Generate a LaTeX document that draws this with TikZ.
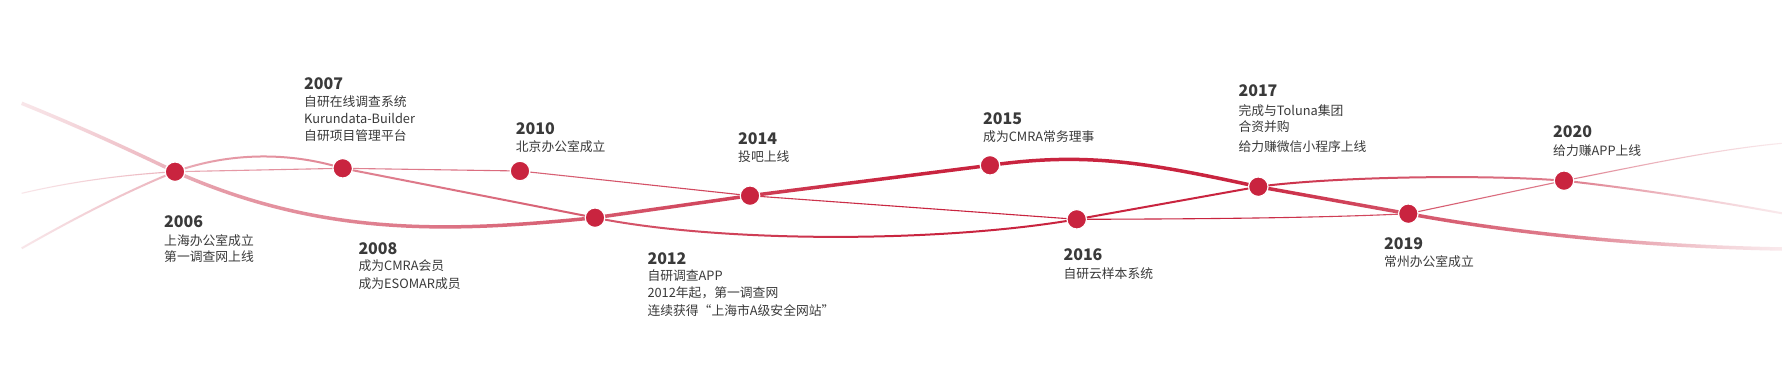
\documentclass[tikz,border=0pt]{standalone}
\usepackage{fontspec}
\newfontfamily\cjk{Noto Sans CJK SC}
\usetikzlibrary{fadings}
\definecolor{crim}{HTML}{C9243F}
\definecolor{txt}{HTML}{3A3A3A}
\tikzfading[name=fadeL, left color=transparent!4, right color=transparent!100]
\tikzfading[name=fadeR, left color=transparent!100, right color=transparent!4]
\tikzfading[name=fadeLL, left color=transparent!30, right color=transparent!100]
\tikzfading[name=fadeRR, left color=transparent!100, right color=transparent!30]
\tikzset{
  thickline/.style={draw=crim, line width=3.5pt, line join=round},
  medline/.style={draw=crim, line width=2pt, line join=round},
  thinline/.style={draw=crim, line width=1.1pt, line join=round},
  dot/.style={circle, fill=crim, draw=white, line width=1.2pt, minimum size=19.5pt, inner sep=0pt},
  yr/.style={anchor=base west, inner sep=0pt, text=txt, font=\cjk\bfseries\fontsize{16}{16}\selectfont},
  tx/.style={anchor=base west, inner sep=0pt, text=txt, font=\cjk\fontsize{12.8}{12.8}\selectfont}
}
\begin{document}
\begin{tikzpicture}[x=1pt, y=-1pt]
\useasboundingbox[fill=white] (0,0) rectangle (1782,367);
% milestone positions
\coordinate (p2006) at (175,171.7);
\coordinate (p2007) at (342.7,168.3);
\coordinate (p2008) at (595,217.7);
\coordinate (p2010) at (520,171);
\coordinate (p2014) at (750,195.7);
\coordinate (p2015) at (990,165.3);
\coordinate (p2016) at (1076.7,219.3);
\coordinate (p2017) at (1258.3,186.7);
\coordinate (p2019) at (1408.3,213.7);
\coordinate (p2020) at (1564,180.7);
% free ends
\coordinate (aL) at (21.7,103.3);
\coordinate (bL) at (21.7,248.3);
\coordinate (cL) at (21.7,193.3);
\coordinate (aR) at (1782,249);
\coordinate (bR) at (1782,213.3);
\coordinate (cR) at (1782,143.3);
% thin strand
\draw[thinline] (cL) .. controls (70,182) and (120,175) .. (p2006) -- (p2007) -- (p2010) -- (p2014) -- (p2016)
  .. controls (1200,219) and (1320,218) .. (p2019) -- (p2020) .. controls (1630,168) and (1710,150) .. (cR);
% medium strand
\draw[medline] (bL) .. controls (80,215) and (130,190) .. (p2006) .. controls (230,152) and (290,152) .. (p2007)
  -- (p2008) .. controls (720,243) and (940,243) .. (p2016) -- (p2017)
  .. controls (1330,177) and (1480,174) .. (p2020) .. controls (1640,189) and (1720,202) .. (bR);
% thick strand
\draw[thickline] (aL) .. controls (80,127) and (130,150) .. (p2006) .. controls (320,236) and (445,233) .. (p2008)
  -- (p2014) -- (p2015) .. controls (1085,152) and (1145,162) .. (p2017) -- (p2019)
  .. controls (1490,229) and (1620,246) .. (aR);
% fading of the ends
\fill[white, path fading=fadeL] (-300,-10) rectangle (900,380);
\fill[white, path fading=fadeLL] (0,-10) rectangle (220,380);
\fill[white, path fading=fadeR] (1235,-10) rectangle (1995,380);
\fill[white, path fading=fadeRR] (1580,-10) rectangle (1782,380);
% dots
\foreach \y in {2006,2007,2008,2010,2014,2015,2016,2017,2019,2020}
  \node[dot] (d\y) at (p\y) {};
% labels
\node[yr] (y2006) at (164,227.3) {2006};
\node[tx] (t2006a) at (164,245) {上海办公室成立};
\node[tx] (t2006b) at (164,261.3) {第一调查网上线};
\node[yr] (y2007) at (304,89) {2007};
\node[tx] (t2007a) at (304,106.7) {自研在线调查系统};
\node[tx] (t2007b) at (304,123.3) {Kurundata-Builder};
\node[tx] (t2007c) at (304,140) {自研项目管理平台};
\node[yr] (y2008) at (358.3,254) {2008};
\node[tx] (t2008a) at (358.3,270.7) {成为CMRA会员};
\node[tx] (t2008b) at (358.3,288.3) {成为ESOMAR成员};
\node[yr] (y2010) at (515.7,134) {2010};
\node[tx] (t2010a) at (515.7,151) {北京办公室成立};
\node[yr] (y2012) at (647.3,264) {2012};
\node[tx] (t2012a) at (647.3,280) {自研调查APP};
\node[tx] (t2012b) at (647.3,297.3) {2012年起，第一调查网};
\node[tx] (t2012c) at (647.3,315) {连续获得“上海市A级安全网站”};
\node[yr] (y2014) at (738,144) {2014};
\node[tx] (t2014a) at (738,161.7) {投吧上线};
\node[yr] (y2015) at (983,124) {2015};
\node[tx] (t2015a) at (983,141.7) {成为CMRA常务理事};
\node[yr] (y2016) at (1063.3,260.7) {2016};
\node[tx] (t2016a) at (1063.3,278.3) {自研云样本系统};
\node[yr] (y2017) at (1238.3,96.7) {2017};
\node[tx] (t2017a) at (1238.3,115) {完成与Toluna集团};
\node[tx] (t2017b) at (1238.3,131.7) {合资并购};
\node[tx] (t2017c) at (1238.3,151.7) {给力赚微信小程序上线};
\node[yr] (y2019) at (1384,249) {2019};
\node[tx] (t2019a) at (1384,266.7) {常州办公室成立};
\node[yr] (y2020) at (1553,137.3) {2020};
\node[tx] (t2020a) at (1553,155) {给力赚APP上线};
\end{tikzpicture}
\end{document}
